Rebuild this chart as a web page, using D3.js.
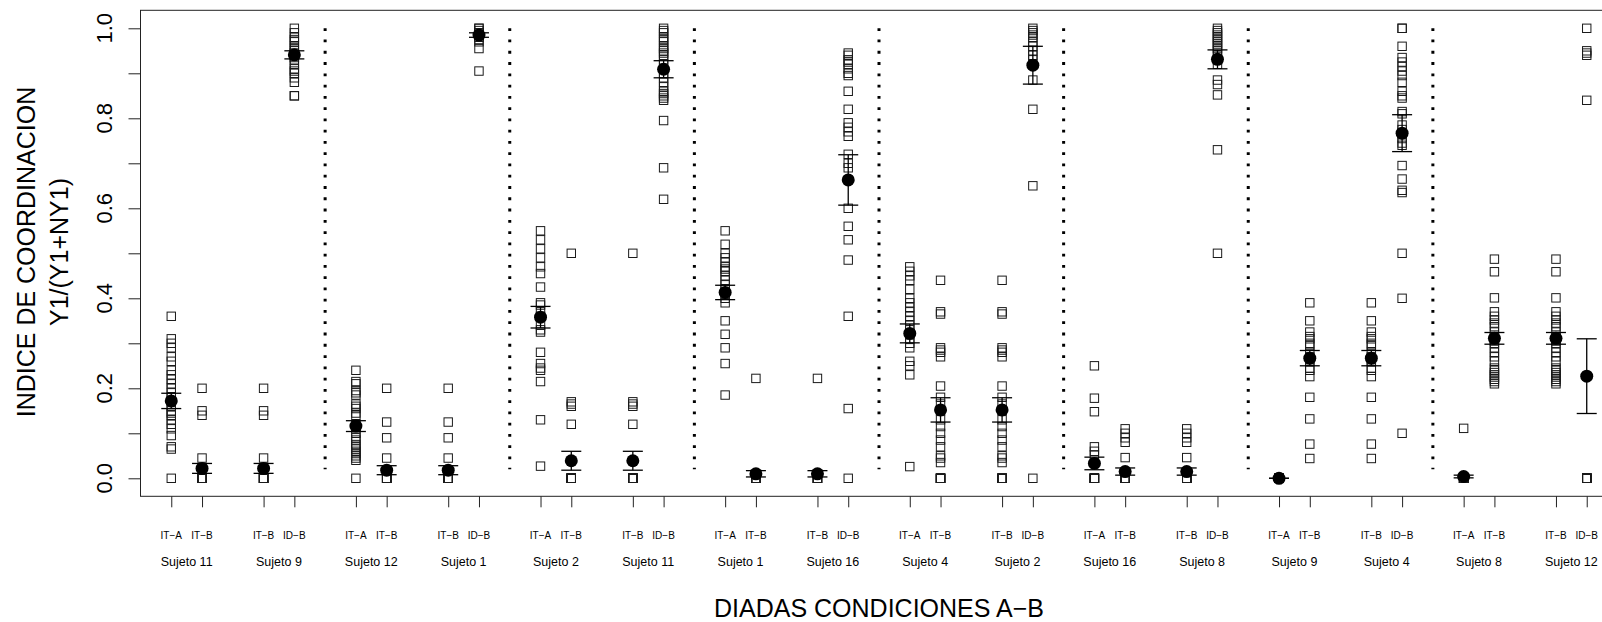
<!DOCTYPE html>
<html>
<head>
<meta charset="utf-8">
<script src="https://cdn.jsdelivr.net/npm/d3@7/dist/d3.min.js"></script>
<style>
  html, body { margin: 0; padding: 0; background: #fff; }
  svg { display: block; font-family: "Liberation Sans", Arial, Helvetica, sans-serif; }
</style>
</head>
<body>
<svg id="chart" width="1602" height="622"></svg>
<script>
// ---------------- DATA ----------------
const groups = ["Sujeto 11","Sujeto 9","Sujeto 12","Sujeto 1","Sujeto 2","Sujeto 11","Sujeto 1","Sujeto 16",
                "Sujeto 4","Sujeto 2","Sujeto 16","Sujeto 8","Sujeto 9","Sujeto 4","Sujeto 8","Sujeto 12"];
const conditions = ["IT\u2212A","IT\u2212B","IT\u2212B","ID\u2212B","IT\u2212A","IT\u2212B","IT\u2212B","ID\u2212B",
                    "IT\u2212A","IT\u2212B","IT\u2212B","ID\u2212B","IT\u2212A","IT\u2212B","IT\u2212B","ID\u2212B",
                    "IT\u2212A","IT\u2212B","IT\u2212B","ID\u2212B","IT\u2212A","IT\u2212B","IT\u2212B","ID\u2212B",
                    "IT\u2212A","IT\u2212B","IT\u2212B","ID\u2212B","IT\u2212A","IT\u2212B","IT\u2212B","ID\u2212B"];

const means = [0.172, 0.022, 0.022, 0.941, 0.116, 0.018, 0.018, 0.985,
               0.358, 0.039, 0.039, 0.909, 0.413, 0.010, 0.010, 0.663,
               0.322, 0.152, 0.152, 0.918, 0.033, 0.015, 0.015, 0.931,
               0.000, 0.267, 0.267, 0.767, 0.004, 0.311, 0.311, 0.227];
const stdErrors = [0.017, 0.011, 0.011, 0.009, 0.012, 0.010, 0.010, 0.005,
                   0.024, 0.021, 0.021, 0.019, 0.016, 0.007, 0.007, 0.056,
                   0.021, 0.027, 0.027, 0.042, 0.014, 0.008, 0.008, 0.021,
                   0.000, 0.017, 0.017, 0.041, 0.003, 0.013, 0.013, 0.083];

const s11_itA = [0.36,0.31,0.30,0.29,0.27,0.26,0.24,0.23,0.22,0.21,0.20,0.19,0.18,0.17,0.16,0.15,0.145,0.14,0.13,0.12,0.11,0.095,0.07,0.065,0];
const s11_itB = [0.20,0.15,0.14,0.045,0,0,0,0,0,0,0,0];
const s9_itB  = [0.20,0.15,0.14,0.045,0,0,0,0,0,0,0,0];
const s9_idB  = [1.0,0.99,0.98,0.975,0.97,0.96,0.955,0.95,0.945,0.94,0.935,0.93,0.92,0.91,0.905,0.90,0.89,0.88,0.85,0.85];
const s12_itA = [0.24,0.215,0.21,0.195,0.19,0.185,0.165,0.16,0.155,0.145,0.14,0.12,0.115,0.11,0.10,0.09,0.085,0.075,0.07,0.065,0.06,0.055,0.05,0.045,0.04,0];
const s12_itB = [0.20,0.125,0.09,0.045,0,0,0,0,0,0,0,0];
const s1_itB  = [0.20,0.125,0.09,0.045,0,0,0,0,0,0,0,0];
const s1_idB  = [1.0,1.0,0.995,0.99,0.99,0.985,0.98,0.975,0.97,0.955,0.905];
const s2_itA  = [0.55,0.53,0.51,0.49,0.47,0.455,0.425,0.39,0.385,0.37,0.36,0.34,0.33,0.325,0.28,0.255,0.245,0.24,0.215,0.13,0.027];
const s2_itB  = [0.50,0.17,0.165,0.16,0.12,0,0,0,0,0,0,0,0,0,0];
const s11b_itB = [0.50,0.17,0.165,0.16,0.12,0,0,0,0,0,0,0,0,0,0];
const s11b_idB = [1.0,0.995,0.99,0.98,0.975,0.97,0.96,0.955,0.95,0.945,0.94,0.93,0.92,0.90,0.89,0.88,0.87,0.86,0.855,0.85,0.845,0.84,0.795,0.69,0.62];
const s1b_itA = [0.55,0.52,0.50,0.49,0.48,0.47,0.465,0.46,0.45,0.44,0.43,0.42,0.41,0.40,0.39,0.35,0.32,0.29,0.255,0.185];
const s1b_itB = [0.222,0,0,0,0,0,0];
const s16_itB = [0.222,0,0,0,0,0,0];
const s16_idB = [0.945,0.94,0.93,0.925,0.92,0.91,0.90,0.895,0.86,0.82,0.79,0.78,0.77,0.76,0.72,0.70,0.69,0.60,0.56,0.53,0.485,0.36,0.155,0];
const s4_itA  = [0.47,0.46,0.45,0.44,0.42,0.40,0.39,0.38,0.37,0.36,0.35,0.34,0.33,0.32,0.31,0.30,0.29,0.26,0.25,0.23,0.026];
const s4_itB  = [0.44,0.37,0.365,0.29,0.285,0.28,0.27,0.205,0.18,0.165,0.15,0.13,0.115,0.10,0.085,0.07,0.05,0.045,0.035,0,0,0,0,0,0,0];
const s2b_itB = [0.44,0.37,0.365,0.29,0.285,0.28,0.27,0.205,0.18,0.165,0.15,0.13,0.115,0.10,0.085,0.07,0.05,0.045,0.035,0,0,0,0,0,0,0];
const s2b_idB = [1.0,0.995,0.99,0.985,0.98,0.97,0.96,0.95,0.94,0.93,0.885,0.82,0.65,0];
const s16b_itA = [0.25,0.178,0.148,0.07,0.06,0.052,0,0,0,0,0,0,0,0];
const s16b_itB = [0.11,0.10,0.09,0.08,0.046,0,0,0,0,0,0,0,0,0];
const s8_itB  = [0.11,0.10,0.09,0.08,0.046,0,0,0,0,0,0,0,0,0];
const s8_idB  = [1.0,0.995,0.99,0.985,0.98,0.975,0.97,0.965,0.96,0.955,0.95,0.94,0.93,0.92,0.885,0.875,0.852,0.73,0.50];
const s9b_itA = [0,0,0,0,0,0,0,0,0,0];
const s9b_itB = [0.39,0.35,0.325,0.315,0.31,0.30,0.295,0.28,0.27,0.265,0.26,0.245,0.24,0.226,0.18,0.132,0.076,0.044];
const s4b_itB = [0.39,0.35,0.325,0.315,0.31,0.30,0.295,0.28,0.27,0.265,0.26,0.245,0.24,0.226,0.18,0.132,0.076,0.044];
const s4b_idB = [1.0,1.0,0.96,0.935,0.925,0.915,0.905,0.895,0.88,0.86,0.85,0.845,0.815,0.81,0.785,0.775,0.765,0.755,0.745,0.74,0.695,0.665,0.64,0.635,0.50,0.40,0.10];
const s8b_itA = [0.111,0,0,0,0,0,0,0,0,0,0,0];
const s8b_itB = [0.487,0.459,0.401,0.37,0.36,0.352,0.345,0.337,0.325,0.315,0.305,0.30,0.29,0.28,0.27,0.26,0.245,0.24,0.235,0.23,0.225,0.22,0.215,0.21];
const s12b_itB = [0.487,0.459,0.401,0.37,0.36,0.352,0.345,0.337,0.325,0.315,0.305,0.30,0.29,0.28,0.27,0.26,0.245,0.24,0.235,0.23,0.225,0.22,0.215,0.21];
const s12b_idB = [1.0,0.95,0.945,0.94,0.84,0,0,0,0,0,0,0,0,0,0,0,0];

const observations = [s11_itA, s11_itB, s9_itB, s9_idB, s12_itA, s12_itB, s1_itB, s1_idB,
                      s2_itA, s2_itB, s11b_itB, s11b_idB, s1b_itA, s1b_itB, s16_itB, s16_idB,
                      s4_itA, s4_itB, s2b_itB, s2b_idB, s16b_itA, s16b_itB, s8_itB, s8_idB,
                      s9b_itA, s9b_itB, s4b_itB, s4b_idB, s8b_itA, s8b_itB, s12b_itB, s12b_idB];

const yTicks = [0, 0.1, 0.2, 0.3, 0.4, 0.5, 0.6, 0.7, 0.8, 0.9, 1.0];
const yTickLabels = [0, 0.2, 0.4, 0.6, 0.8, 1.0];
const yTitle = ["INDICE DE COORDINACION", "Y1/(Y1+NY1)"];
const xTitle = "DIADAS CONDICIONES A\u2212B";

// ---------------- LAYOUT ----------------
const svg = d3.select("#chart");
const x = d3.scaleLinear().domain([0, 48]).range([140.5, 1617.5]);
const y = d3.scaleLinear().domain([-0.04, 1.04]).range([496.3, 10.3]);
const pos = i => 3 * Math.floor(i / 2) + 1 + (i % 2);

const cats = means.map((m, i) => ({ i, p: pos(i), mean: m, se: stdErrors[i], obs: observations[i], cond: conditions[i] }));

// plot box
svg.append("rect")
  .attr("x", x(0)).attr("y", y(1.04)).attr("width", x(48) - x(0)).attr("height", y(-0.04) - y(1.04))
  .attr("fill", "none").attr("stroke", "#222").attr("stroke-width", 1);

// dotted separators between blocks of two pairs
const separators = d3.range(1, groups.length - 1, 2).map(g => 3 * (g + 1));
svg.append("g").selectAll("line").data(separators).join("line")
  .attr("x1", d => x(d)).attr("x2", d => x(d))
  .attr("y1", y(1.0)).attr("y2", y(0.02))
  .attr("stroke", "#000").attr("stroke-width", 3)
  .attr("stroke-dasharray", "2.8 8.47");

// y axis
const yAxis = d3.axisLeft(y).tickValues(yTicks).tickSize(12).tickFormat("");
const gy = svg.append("g").attr("transform", `translate(${x(0)},0)`).call(yAxis);
gy.select(".domain").remove();
gy.selectAll(".tick line").attr("stroke", "#222");
svg.append("g").selectAll("text").data(yTickLabels).join("text")
  .attr("transform", d => `translate(111.5,${y(d)}) rotate(-90)`)
  .attr("text-anchor", "middle").attr("font-size", 22).attr("fill", "#000")
  .text(d => d3.format(".1f")(d));

// x axis
const xAxis = d3.axisBottom(x).tickValues(cats.map(c => c.p)).tickSize(11).tickFormat("");
const gx = svg.append("g").attr("transform", `translate(0,${y(-0.04)})`).call(xAxis);
gx.select(".domain").remove();
gx.selectAll(".tick line").attr("stroke", "#222");

svg.append("g").selectAll("text").data(cats).join("text")
  .attr("x", d => x(d.p)).attr("y", 538.5)
  .attr("text-anchor", "middle").attr("font-size", 10).attr("fill", "#000")
  .text(d => d.cond);

svg.append("g").selectAll("text").data(groups).join("text")
  .attr("x", (d, g) => x(3 * g + 1.5)).attr("y", 566)
  .attr("text-anchor", "middle").attr("font-size", 12.5).attr("fill", "#000")
  .text(d => d);

// titles
svg.append("text").attr("x", x(24)).attr("y", 617)
  .attr("text-anchor", "middle").attr("font-size", 25).attr("fill", "#000").text(xTitle);
svg.append("g").selectAll("text").data(yTitle).join("text")
  .attr("transform", (d, k) => `translate(${k === 0 ? 35 : 68},252) rotate(-90)`)
  .attr("text-anchor", "middle").attr("font-size", 25).attr("fill", "#000")
  .text(d => d);

// observations: open squares
const S = 8.4;
const obsG = svg.append("g");
cats.forEach(c => {
  obsG.append("g").selectAll("rect").data(c.obs).join("rect")
    .attr("x", x(c.p) - S / 2).attr("y", v => y(v) - S / 2)
    .attr("width", S).attr("height", S)
    .attr("fill", "none").attr("stroke", "#1a1a1a").attr("stroke-width", 1);
});

// error bars
const eg = svg.append("g").attr("stroke", "#000").attr("stroke-width", 1.3);
eg.selectAll("line.v").data(cats).join("line").attr("class", "v")
  .attr("x1", d => x(d.p)).attr("x2", d => x(d.p))
  .attr("y1", d => y(d.mean - d.se)).attr("y2", d => y(d.mean + d.se));
eg.selectAll("line.t").data(cats).join("line").attr("class", "t")
  .attr("x1", d => x(d.p) - 10).attr("x2", d => x(d.p) + 10)
  .attr("y1", d => y(d.mean + d.se)).attr("y2", d => y(d.mean + d.se));
eg.selectAll("line.b").data(cats).join("line").attr("class", "b")
  .attr("x1", d => x(d.p) - 10).attr("x2", d => x(d.p) + 10)
  .attr("y1", d => y(d.mean - d.se)).attr("y2", d => y(d.mean - d.se));

// means
svg.append("g").selectAll("circle").data(cats).join("circle")
  .attr("cx", d => x(d.p)).attr("cy", d => y(d.mean)).attr("r", 6.5).attr("fill", "#000");
</script>
</body>
</html>
